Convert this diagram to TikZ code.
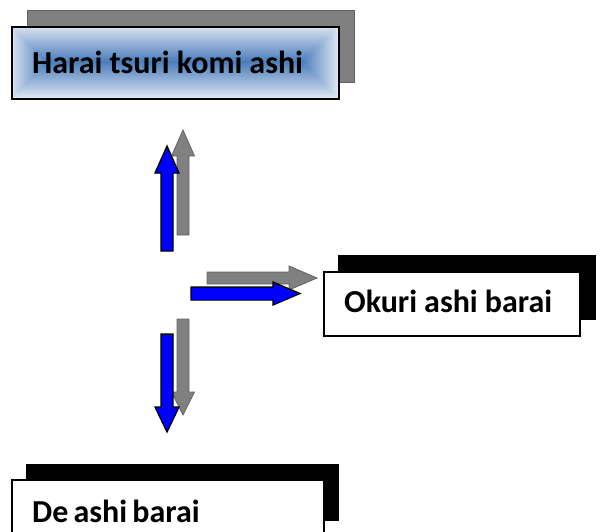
\documentclass[tikz,border=0pt]{standalone}
\usepackage{fontspec}
\setmainfont{Carlito}
\definecolor{hedge}{RGB}{220,229,242}
\definecolor{hcenter}{RGB}{74,124,186}
\definecolor{shgray}{RGB}{128,128,128}
\definecolor{shgrayline}{RGB}{96,96,96}
\definecolor{arrgray}{RGB}{128,128,128}
\definecolor{arrgrayline}{RGB}{100,100,100}
\definecolor{arrblue}{RGB}{0,0,255}
\tikzset{
  framebox/.style={draw=black, line width=2pt, anchor=north west, inner sep=0pt},
  labeltext/.style={anchor=base west, inner sep=0pt,
    font=\fontsize{32}{38}\selectfont\bfseries,
    execute at begin node={\spaceskip=0.22em\relax}},
  shadowblack/.style={fill=black},
  shadowgray/.style={fill=shgray, draw=shgrayline, line width=1pt},
  bluearrow/.style={fill=arrblue, draw=black, line width=1.3pt, line join=miter},
  grayarrow/.style={fill=arrgray, draw=arrgrayline, line width=0.8pt, line join=miter}
}
\begin{document}
\begin{tikzpicture}[x=1pt,y=-1pt]
\useasboundingbox (0,0) rectangle (602,531);
\clip (0,0) rectangle (602,531);
% top box
\draw[shadowgray] (27,10) rectangle (354,82);
\foreach \i in {0,...,36} {
  \pgfmathsetmacro\p{100*(\i/36)^0.95}
  \fill[hcenter!\p!hedge] (11+\i,26+\i) rectangle (338-\i,98-\i);
}
\node[framebox, minimum width=327pt, minimum height=72pt] (harai) at (11,26) {};
\node[labeltext] (haraitext) at (32,73) {Harai tsuri komi ashi};
% okuri box
\fill[shadowblack] (338,255) rectangle (596,320);
\node[framebox, fill=white, minimum width=256pt, minimum height=64pt] (okuri) at (323,271) {};
\node[labeltext] (okuritext) at (344,312) {Okuri ashi barai};
% de ashi box
\fill[shadowblack] (26,464) rectangle (339,521);
\node[framebox, fill=white, minimum width=312pt, minimum height=65pt] (deashi) at (11,479) {};
\node[labeltext, execute at begin node={\spaceskip=0.16em\relax}] (deashitext) at (32,522) {De ashi barai};
% arrows
\draw[grayarrow] (177,235) -- (177,156) -- (171.5,156) -- (183,130) -- (194.5,156) -- (189,156) -- (189,235) -- cycle;
\draw[bluearrow] (161,251) -- (161,173) -- (155,173) -- (167,146) -- (179,173) -- (173,173) -- (173,251) -- cycle;
\draw[grayarrow] (207,272) -- (289,272) -- (289,266) -- (317,278) -- (289,290) -- (289,284) -- (207,284) -- cycle;
\draw[bluearrow] (191,287) -- (273,287) -- (273,282) -- (300,293.5) -- (273,305) -- (273,300) -- (191,300) -- cycle;
\draw[grayarrow] (177,319) -- (177,392) -- (171.5,392) -- (183,415) -- (194.5,392) -- (189,392) -- (189,319) -- cycle;
\draw[bluearrow] (161,334) -- (161,407) -- (155,407) -- (167,432) -- (179,407) -- (173,407) -- (173,334) -- cycle;
\end{tikzpicture}
\end{document}
